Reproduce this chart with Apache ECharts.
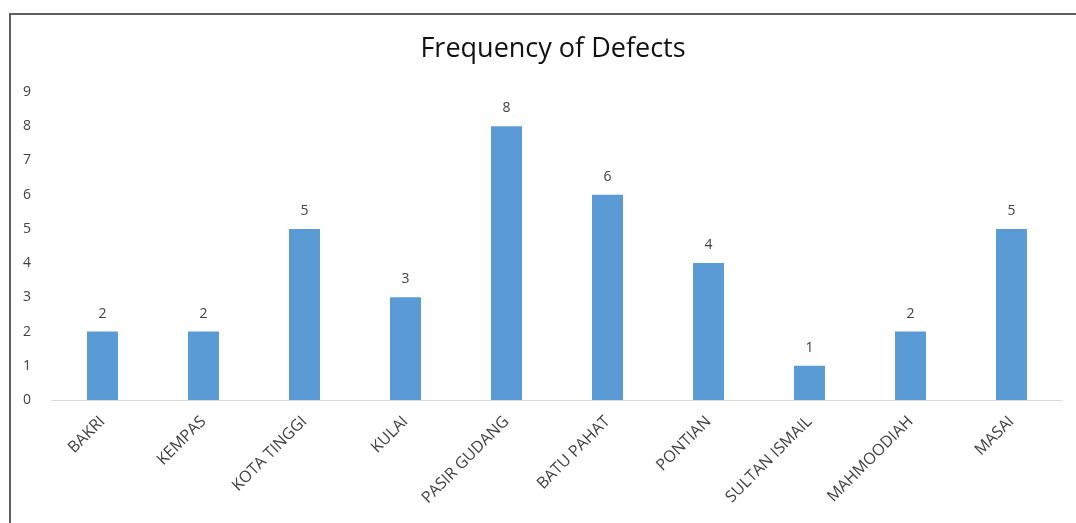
<!DOCTYPE html>
<html>
<head>
<meta charset="utf-8">
<script src="https://cdn.jsdelivr.net/npm/echarts@6/dist/echarts.min.js"></script>
<style>
html,body{margin:0;padding:0;background:#fff;}
#chart{width:1076px;height:523px;position:absolute;left:0;top:0;}
#frame{position:absolute;left:9px;top:13px;width:1100px;height:600px;border-top:2px solid #5f5f5f;border-left:2px solid #5f5f5f;pointer-events:none;}
</style>
</head>
<body>
<div id="chart"></div>
<div id="frame"></div>
<script>
const categories = ["BAKRI","KEMPAS","KOTA TINGGI","KULAI","PASIR GUDANG","BATU PAHAT","PONTIAN","SULTAN ISMAIL","MAHMOODIAH","MASAI"];
const defects = [2,2,5,3,8,6,4,1,2,5];
const yTicks = [0,1,2,3,4,5,6,7,8,9];

const chart = echarts.init(document.getElementById('chart'));
chart.setOption({
  animation:false,
  title:{text:'Frequency of Defects',left:548,top:31,textAlign:'center',
    textStyle:{fontFamily:'Open Sans',fontSize:27,fontWeight:'normal',color:'#111'}},
  grid:{left:52,right:14,top:92,bottom:123},
  xAxis:{type:'category',data:categories,
    axisLine:{lineStyle:{color:'#d9d9d9',width:1}},
    axisTick:{show:false},
    axisLabel:{rotate:45,interval:0,margin:19,color:'#404040',fontFamily:'Open Sans',fontSize:16}},
  yAxis:{type:'value',min:yTicks[0],max:yTicks[yTicks.length-1],interval:1,
    axisLine:{show:false},axisTick:{show:false},splitLine:{show:false},
    axisLabel:{margin:21,color:'#404040',fontFamily:'Open Sans',fontSize:14}},
  series:[{type:'bar',data:defects,barWidth:31,
    itemStyle:{color:'#5b9bd5'},
    label:{show:true,position:'top',distance:11,color:'#404040',fontFamily:'Open Sans',fontSize:14}}]
});
</script>
</body>
</html>
